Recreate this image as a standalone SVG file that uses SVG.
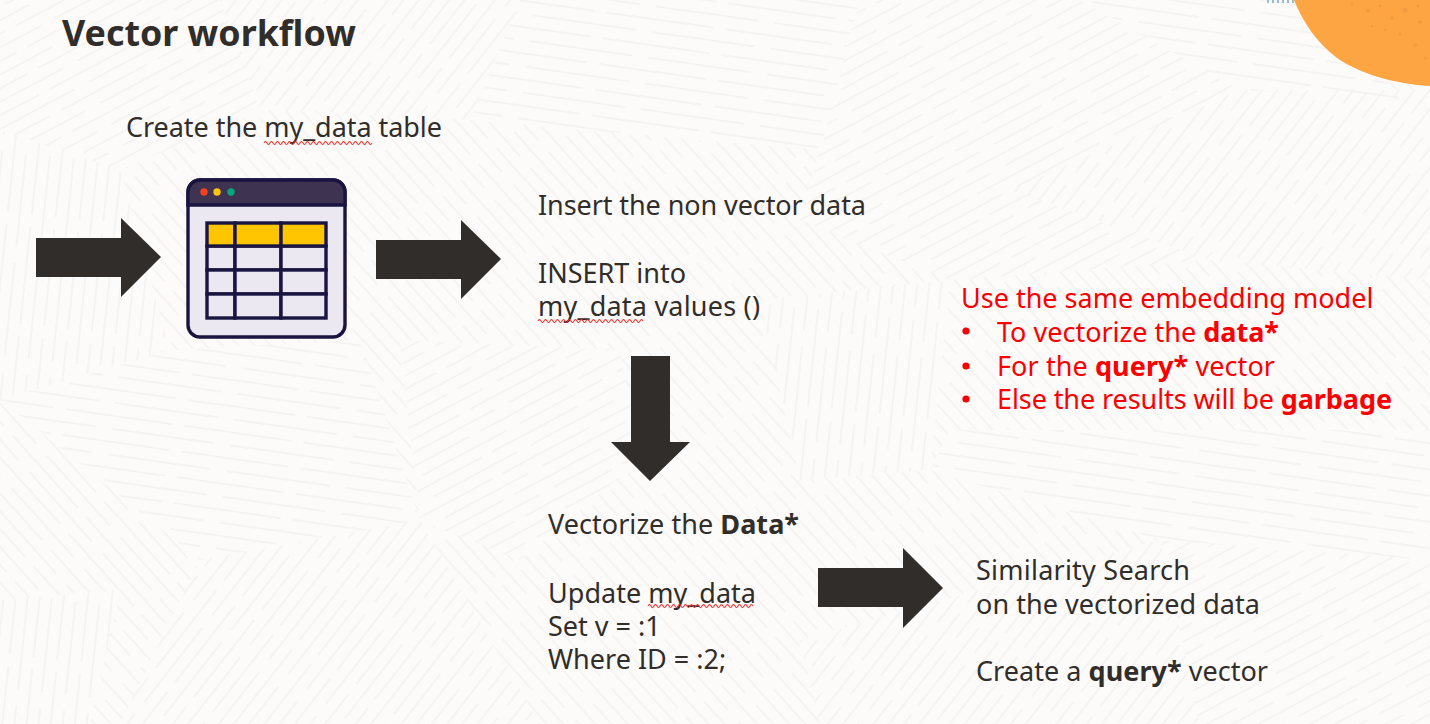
<svg xmlns="http://www.w3.org/2000/svg" width="1430" height="724" viewBox="0 0 1430 724">
<defs>
<style>
text{font-family:"Noto Sans","Open Sans","Liberation Sans",sans-serif;font-size:27px;fill:#312d2a}
.b{font-weight:700}
.r{fill:#fb0000}
.t{font-size:35.800px;font-weight:700}
.arrow{fill:#312d2a}
.sq{fill:none;stroke:#e8322e;stroke-width:1.1}
.g{stroke:#1a1440;stroke-width:3.400;fill:#ece8f2}
.h{stroke:#1a1440;stroke-width:3.400;fill:#ffc500}
.ln{stroke:#f3f2f0;stroke-width:1.500}
</style>
<pattern id="h1" width="110" height="24" patternUnits="userSpaceOnUse" patternTransform="rotate(-28)"><path class="ln" d="M2 6H100M40 18H110M0 18H24"/></pattern>
<pattern id="h2" width="24" height="110" patternUnits="userSpaceOnUse" patternTransform="rotate(38)"><path class="ln" d="M6 2V100M18 40V110M18 0V24"/></pattern>
<pattern id="h3" width="120" height="26" patternUnits="userSpaceOnUse" patternTransform="rotate(8)"><path class="ln" d="M2 6H110M50 19H120M0 19H34"/></pattern>
<pattern id="h4" width="24" height="110" patternUnits="userSpaceOnUse" patternTransform="rotate(-42)"><path class="ln" d="M6 2V100M18 40V110M18 0V24"/></pattern>
<pattern id="h5" width="24" height="110" patternUnits="userSpaceOnUse" patternTransform="rotate(6)"><path class="ln" d="M6 2V100M18 40V110M18 0V24"/></pattern>
<clipPath id="oc"><path d="M1294 0H1430V86C1395 84 1360 74 1337 58 1316 42 1303 22 1294 0Z"/></clipPath>
</defs>
<rect id="bg" width="1430" height="724" fill="#fcfbf9"/>
<g id="texture">
<rect width="1430" height="724" fill="url(#h4)"/>
<path fill="#fcfbf9" d="M0 0H220L260 110 120 170 0 130Z M220 0H520L470 120 260 110Z M520 0H860L820 150 470 120Z M860 0H1080L1240 90 1010 190 820 150Z M1080 0H1330L1400 100 1240 90Z M1240 90L1430 90V280L1210 260 1010 190Z M0 130L120 170 170 350 0 400Z M820 150L1010 190 1210 260 950 280 800 220Z M170 350L360 340 420 520 200 560 0 400Z M760 300L950 280 930 470 800 480Z M950 430H1430V560L1160 540 930 470Z M200 560L420 520 540 724H120Z M800 640L1160 540 1200 724H820Z M1160 540L1430 560V724H1200Z M400 340L620 350 640 460 520 560 420 520Z M0 600L120 590 90 724H0Z"/>
<path fill="url(#h1)" d="M0 0H220L260 110 120 170 0 130Z"/>
<path fill="url(#h2)" d="M220 0H520L470 120 260 110Z"/>
<path fill="url(#h3)" d="M520 0H860L820 150 470 120Z"/>
<path fill="url(#h1)" d="M860 0H1080L1240 90 1010 190 820 150Z"/>
<path fill="url(#h3)" d="M1080 0H1330L1400 100 1240 90Z"/>
<path fill="url(#h2)" d="M1240 90L1430 90V280L1210 260 1010 190Z"/>
<path fill="url(#h5)" d="M0 130L120 170 170 350 0 400Z"/>
<path fill="url(#h1)" d="M820 150L1010 190 1210 260 950 280 800 220Z"/>
<path fill="url(#h3)" d="M170 350L360 340 420 520 200 560 0 400Z"/>
<path fill="url(#h5)" d="M760 300L950 280 930 470 800 480Z"/>
<path fill="url(#h3)" d="M950 430H1430V560L1160 540 930 470Z"/>
<path fill="url(#h2)" d="M200 560L420 520 540 724H120Z"/>
<path fill="url(#h2)" d="M800 640L1160 540 1200 724H820Z"/>
<path fill="url(#h1)" d="M1160 540L1430 560V724H1200Z"/>
<path fill="url(#h1)" d="M400 340L620 350 640 460 520 560 420 520Z"/>
<path fill="url(#h5)" d="M0 600L120 590 90 724H0Z"/>
</g>
<g id="corner">
<path d="M1268 0V3M1273 0V3M1278 0V3M1283 0V3M1288 0V3M1293 0V3" stroke="#7fb2c8" stroke-width="1.600"/>
<path fill="#fda543" d="M1294 0H1430V86C1395 84 1360 74 1337 58 1316 42 1303 22 1294 0Z"/>
<g clip-path="url(#oc)" fill="#f09d40"><circle cx="1352" cy="4" r="1.500"/><circle cx="1368" cy="11" r="2"/><circle cx="1380" cy="6" r="1.500"/><circle cx="1392" cy="18" r="2"/><circle cx="1405" cy="10" r="2.500"/><circle cx="1420" cy="22" r="2"/><circle cx="1400" cy="34" r="1.500"/><circle cx="1415" cy="45" r="2"/><circle cx="1385" cy="30" r="1.200"/><circle cx="1425" cy="58" r="1.500"/><circle cx="1372" cy="26" r="1.200"/><circle cx="1418" cy="6" r="1.500"/></g>
</g>
<text id="title" class="t" x="62" y="46">Vector workflow</text>
<g id="connectors">
<path class="arrow" d="M36 238H121V218L161 257 121 297V277H36Z"/>
<path class="arrow" d="M376 240H461V220L501 259 461 299V279H376Z"/>
<path class="arrow" d="M631 356H670V442H690L650 481 611 442H631Z"/>
<path class="arrow" d="M818 568H903V548L943 588 903 628V607H818Z"/>
</g>
<g id="node-table">
<text x="126" y="137" textLength="316">Create the my_data table</text>
<path class="sq" d="M264 143q1.500 -3 3 0t3 0 3 0 3 0 3 0 3 0 3 0 3 0 3 0 3 0 3 0 3 0 3 0 3 0 3 0 3 0 3 0 3 0 3 0 3 0 3 0 3 0 3 0 3 0 3 0 3 0 3 0 3 0 3 0 3 0 3 0 3 0 3 0 3 0 3 0 3 0"/>
<rect x="188" y="180" width="157" height="157" rx="12" fill="#ece8f2" stroke="#1a1440" stroke-width="3.400"/>
<path d="M188 205V192A12 12 0 0 1 200 180H333A12 12 0 0 1 345 192V205Z" fill="#3e3350" stroke="#1a1440" stroke-width="3.400"/>
<circle cx="204" cy="192" r="3.700" fill="#f5421c"/><circle cx="217" cy="192" r="3.700" fill="#ffc500"/><circle cx="231" cy="192" r="3.700" fill="#00a77f"/>
<rect class="g" x="207" y="246" width="28" height="24"/><rect class="g" x="235" y="246" width="46" height="24"/><rect class="g" x="281" y="246" width="45" height="24"/>
<rect class="g" x="207" y="270" width="28" height="24"/><rect class="g" x="235" y="270" width="46" height="24"/><rect class="g" x="281" y="270" width="45" height="24"/>
<rect class="g" x="207" y="294" width="28" height="24"/><rect class="g" x="235" y="294" width="46" height="24"/><rect class="g" x="281" y="294" width="45" height="24"/>
<rect class="h" x="207" y="223" width="28" height="23"/><rect class="h" x="235" y="223" width="46" height="23"/><rect class="h" x="281" y="223" width="45" height="23"/>
</g>
<g id="node-insert">
<text x="538" y="215" textLength="328">Insert the non vector data</text>
<text x="538" y="283">INSERT into</text>
<text x="538" y="316" textLength="222">my_data values ()</text>
<path class="sq" d="M538 321q1.500 -3 3 0t3 0 3 0 3 0 3 0 3 0 3 0 3 0 3 0 3 0 3 0 3 0 3 0 3 0 3 0 3 0 3 0 3 0 3 0 3 0 3 0 3 0 3 0 3 0 3 0 3 0 3 0 3 0 3 0 3 0 3 0 3 0 3 0 3 0 3 0"/>
</g>
<g id="node-vectorize">
<text x="548" y="534" textLength="251">Vectorize the <tspan class="b">Data*</tspan></text>
<text x="548" y="603" textLength="208">Update my_data</text>
<text x="548" y="636">Set v = :1</text>
<text x="548" y="669">Where ID = :2;</text>
<path class="sq" d="M648 606q1.500 -3 3 0t3 0 3 0 3 0 3 0 3 0 3 0 3 0 3 0 3 0 3 0 3 0 3 0 3 0 3 0 3 0 3 0 3 0 3 0 3 0 3 0 3 0 3 0 3 0 3 0 3 0 3 0 3 0 3 0 3 0 3 0 3 0 3 0 3 0 3 0"/>
</g>
<g id="node-search">
<text x="976" y="580" textLength="214">Similarity Search</text>
<text x="976" y="614" textLength="284">on the vectorized data</text>
<text x="976" y="681" textLength="292">Create a <tspan class="b">query*</tspan> vector</text>
</g>
<g id="node-note">
<text class="r" x="961" y="308">Use the same embedding model</text>
<circle cx="966" cy="331" r="3.600" fill="#fb0000"/><circle cx="966" cy="366" r="3.600" fill="#fb0000"/><circle cx="966" cy="399" r="3.600" fill="#fb0000"/>
<text class="r" x="997" y="342">To vectorize the <tspan class="b r">data*</tspan></text>
<text class="r" x="997" y="376" textLength="278">For the <tspan class="b r">query*</tspan> vector</text>
<text class="r" x="997" y="409" textLength="395">Else the results will be <tspan class="b r">garbage</tspan></text>
</g>
</svg>
